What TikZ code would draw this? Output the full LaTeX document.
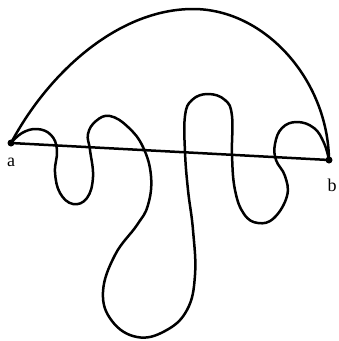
\documentclass[tikz,border=0pt]{standalone}
\usepackage{fontspec}
\setmainfont{Liberation Serif}
\begin{document}
\begin{tikzpicture}[x=1pt,y=-1pt,
  curve/.style={line width=2.5pt,line cap=round,line join=round},
  vertex/.style={circle,fill=black,inner sep=0pt,minimum size=7pt},
  lab/.style={font=\fontsize{18}{18}\selectfont,inner sep=0pt}]
\useasboundingbox (0,0) rectangle (339,341);
\fill[white] (0,0) rectangle (339,341);
\node[vertex] (a) at (11,143) {};
\node[vertex] (b) at (329,160) {};
\node[lab] (la) at (11,162) {a};
\node[lab] (lb) at (332,185) {b};
\draw[curve] (a.center) -- (b.center);
\draw[curve] (a.center) .. controls (50,70) and (120,9) .. (193,9)
  .. controls (265,9) and (328,80) .. (b.center);
\draw[curve] plot[smooth,tension=0.7] coordinates {(a.center) (22,133) (37,129) (51,135) (57,150) (55,172) (60,193) (73,204) (87,198) (93,177) (90,150) (88,134) (96,121) (110,116) (128,127) (143,147) (151,176) (148,205) (137,225) (115,255) (103,292) (112,321) (137,337) (165,331) (187,310) (195,275) (193,230) (188,190) (185,152) (185,116) (192,100) (208,94) (225,100) (232,116) (232,155) (235,190) (244,214) (258,223) (274,218) (287,196) (285,176) (276,160) (275,144) (282,128) (297,122) (314,128) (324,143) (b.center)};
\end{tikzpicture}
\end{document}
